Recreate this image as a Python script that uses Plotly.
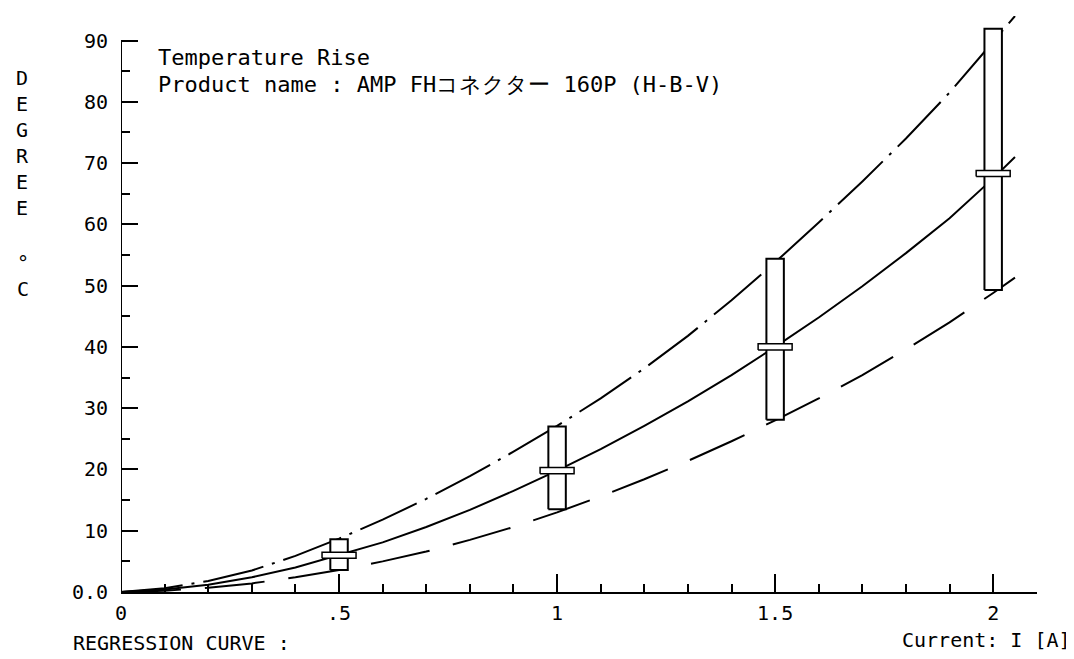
import plotly.graph_objects as go

# ---- data ----
current_pts = [0.5, 1.0, 1.5, 2.0]          # measurement currents [A]
temp_max = [8.6, 27.0, 54.4, 91.9]          # top of each range bar
temp_mean = [6.0, 19.8, 40.0, 68.3]         # mean marker
temp_min = [3.6, 13.5, 28.1, 49.3]          # bottom of each range bar

curve_x = [0.0, 0.1, 0.2, 0.3, 0.4, 0.5, 0.6, 0.7, 0.8, 0.9, 1.0,
           1.1, 1.2, 1.3, 1.4, 1.5, 1.6, 1.7, 1.8, 1.9, 2.0, 2.05]
curve_mean = [0.0, 0.4, 1.2, 2.4, 4.0, 6.0, 8.1, 10.6, 13.4, 16.5, 19.8,
              23.3, 27.1, 31.1, 35.4, 40.0, 44.8, 49.9, 55.3, 61.0, 67.5, 71.0]
curve_upper = [0.0, 0.6, 1.8, 3.5, 5.9, 8.7, 11.8, 15.2, 18.9, 22.9, 27.1,
               31.6, 36.5, 41.8, 47.6, 53.8, 60.3, 67.0, 74.0, 81.5, 89.8, 94.0]
curve_lower = [0.0, 0.2, 0.7, 1.4, 2.4, 3.6, 5.0, 6.6, 8.5, 10.6, 13.0,
               15.6, 18.4, 21.4, 24.6, 28.0, 31.6, 35.4, 39.6, 44.0, 48.8, 51.3]

y_tick_vals = [0, 10, 20, 30, 40, 50, 60, 70, 80, 90]
y_tick_text = ["0.0", "10", "20", "30", "40", "50", "60", "70", "80", "90"]
x_tick_vals = [0, 0.5, 1.0, 1.5, 2.0]
x_tick_text = ["0", ".5", "1", "1.5", "2"]

# ---- styling constants ----
FONT = "DejaVu Sans Mono"
BAR_HALF = 0.02
MARK_HALF_W = 0.039
MARK_HALF_H = 0.5

fig = go.Figure()

fig.add_trace(go.Scatter(x=curve_x, y=curve_upper, mode="lines",
                         line=dict(color="black", width=2, dash="62px,9px,3px,9px")))
fig.add_trace(go.Scatter(x=curve_x, y=curve_mean, mode="lines",
                         line=dict(color="black", width=2)))
fig.add_trace(go.Scatter(x=curve_x, y=curve_lower, mode="lines",
                         line=dict(color="black", width=2, dash="60px,24px")))

# range bars (min..max) as white boxes
bx, by = [], []
for x, lo, hi in zip(current_pts, temp_min, temp_max):
    bx += [x - BAR_HALF, x + BAR_HALF, x + BAR_HALF, x - BAR_HALF, x - BAR_HALF, None]
    by += [lo, lo, hi, hi, lo, None]
fig.add_trace(go.Scatter(x=bx, y=by, mode="lines", fill="toself",
                         fillcolor="white", line=dict(color="black", width=2)))

# mean markers as small flat boxes
mx, my = [], []
for x, m in zip(current_pts, temp_mean):
    mx += [x - MARK_HALF_W, x + MARK_HALF_W, x + MARK_HALF_W, x - MARK_HALF_W, x - MARK_HALF_W, None]
    my += [m - MARK_HALF_H, m - MARK_HALF_H, m + MARK_HALF_H, m + MARK_HALF_H, m - MARK_HALF_H, None]
fig.add_trace(go.Scatter(x=mx, y=my, mode="lines", fill="toself",
                         fillcolor="white", line=dict(color="black", width=1.5)))

# y axis line only up to the top tick
fig.add_shape(type="line", xref="x", yref="y", x0=0, x1=0,
              y0=y_tick_vals[0], y1=y_tick_vals[-1],
              line=dict(color="black", width=2))

fig.update_layout(
    width=1074, height=659,
    margin=dict(l=113, r=45, t=8, b=75),
    paper_bgcolor="white", plot_bgcolor="white",
    showlegend=False, hovermode=False,
    font=dict(family=FONT, color="black", size=20),
    xaxis=dict(range=[0, 2.1005], showgrid=False, zeroline=False,
               showline=True, linecolor="black", linewidth=2,
               tickmode="array", tickvals=x_tick_vals, ticktext=x_tick_text,
               ticks="inside", ticklen=18, tickwidth=2, tickcolor="black",
               ticklabelstandoff=2,
               minor=dict(dtick=0.1, tick0=0, ticks="inside", ticklen=8,
                          tickwidth=2, tickcolor="black"),
               tickfont=dict(family=FONT, size=20)),
    yaxis=dict(range=[0, 94], showgrid=False, zeroline=False, showline=False,
               tickmode="array", tickvals=y_tick_vals, ticktext=y_tick_text,
               ticks="inside", ticklen=17, tickwidth=2, tickcolor="black",
               ticklabelstandoff=12,
               minor=dict(dtick=5, tick0=0, ticks="inside", ticklen=9,
                          tickwidth=2, tickcolor="black"),
               tickfont=dict(family=FONT, size=20)),
)

ann = [
    dict(text="Temperature Rise", x=0.038, y=0.9276, xanchor="left", yanchor="middle",
         font=dict(size=22)),
    dict(text="Product name : AMP FHコネクター 160P (H-B-V)", x=0.038, y=0.881,
         xanchor="left", yanchor="middle", font=dict(size=22)),
    dict(text="D<br>E<br>G<br>R<br>E<br>E", x=-0.107, y=0.779, xanchor="center",
         yanchor="middle", font=dict(size=20)),
    dict(text="°<br>C", x=-0.107, y=0.548, xanchor="center", yanchor="middle",
         font=dict(size=20)),
    dict(text="Current: I [A]", x=1.0393, y=-0.084, xanchor="right", yanchor="middle",
         font=dict(size=20)),
    dict(text="REGRESSION CURVE :", x=-0.055, y=-0.088, xanchor="left", yanchor="middle",
         font=dict(size=20)),
]
for a in ann:
    a.update(xref="paper", yref="paper", showarrow=False, align="center")
    a["font"]["family"] = FONT
    a["font"]["color"] = "black"
fig.update_layout(annotations=ann)

fig.write_html("out.html")
